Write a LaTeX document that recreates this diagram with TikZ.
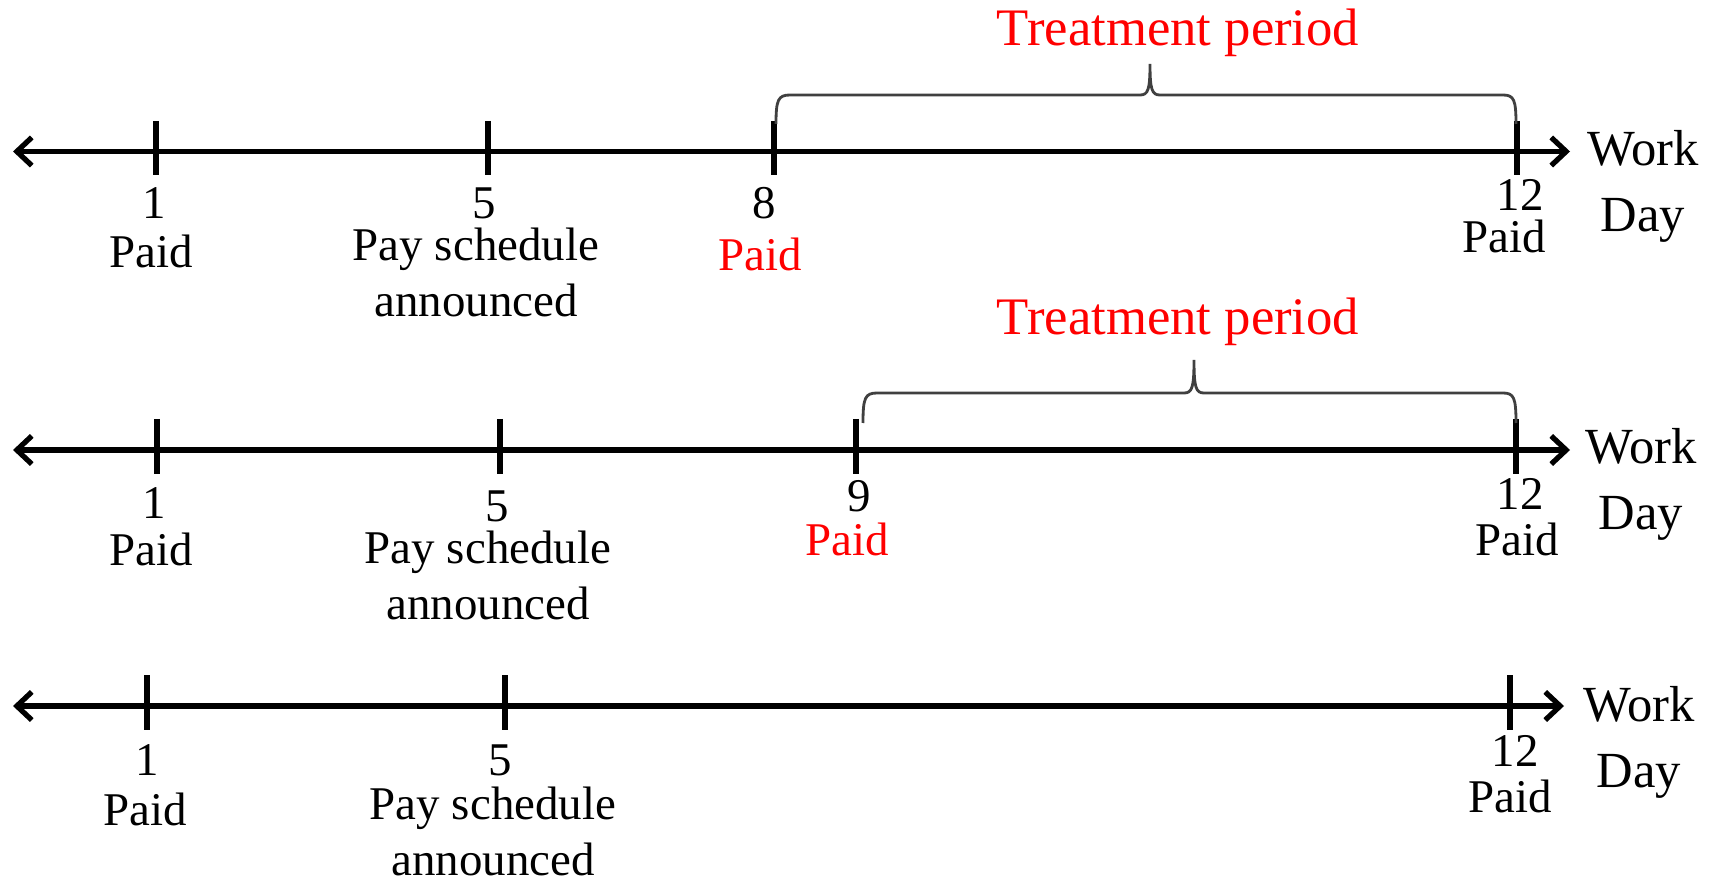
\documentclass[tikz,border=0pt]{standalone}
\usepackage{fontspec}
\setmainfont{Liberation Serif}
\usetikzlibrary{arrows.meta}

\begin{document}
\begin{tikzpicture}[x=0.02cm, y=-0.02cm,
        axisline/.style={line width=3pt, {Straight Barb[length=8.5pt,width=16pt]}-{Straight Barb[length=8.5pt,width=16pt]}},
        tickmark/.style={line width=3pt},
        bracket/.style={draw=black!75, line width=1.6pt},
        lab/.style={font=\fontsize{26.7}{31.9}\selectfont, inner sep=0pt, align=center},
        axislab/.style={font=\fontsize{28.8}{37.5}\selectfont, inner sep=0pt, align=center},
        period/.style={font=\fontsize{30}{34}\selectfont, inner sep=0pt, text=red}]
        \useasboundingbox (0, 0) rectangle (1721, 878);

        % first timeline
        \draw[axisline] (13, 151.5) -- (1570, 151.5);
        \draw[tickmark] (156, 121) -- (156, 175);
        \draw[tickmark] (488, 121) -- (488, 175);
        \draw[tickmark] (774, 121) -- (774, 175);
        \draw[tickmark] (1517, 121) -- (1517, 175);
        \draw[bracket] (776, 124) .. controls (776, 100) and (778, 95) .. (790, 95) -- (1140, 95)
            .. controls (1148, 95) and (1150, 90) .. (1150, 64)
            .. controls (1150, 90) and (1152, 95) .. (1160, 95) -- (1503, 95)
            .. controls (1514, 95) and (1516, 100) .. (1516, 124);

        \node[lab] (d1a) at (154, 203) {1};
        \node[lab] (p1a) at (151, 251) {Paid};
        \node[lab] (d5a) at (484, 203) {5};
        \node[lab] (s5a) at (476, 272) {Pay schedule\\announced};
        \node[lab] (d8a) at (764, 203) {8};
        \node[lab, text=red] (p8a) at (760, 254) {Paid};
        \node[lab] (d12a) at (1520, 195) {12};
        \node[lab] (p12a) at (1504, 236) {Paid};
        \node[axislab] (wda) at (1643, 186) {Work\\Day};
        \node[period] (tpa) at (1178, 33) {Treatment period};

        % second timeline
        \draw[axisline] (13, 450) -- (1570, 450);
        \draw[tickmark] (157, 419) -- (157, 474);
        \draw[tickmark] (500, 419) -- (500, 474);
        \draw[tickmark] (856, 419) -- (856, 474);
        \draw[tickmark] (1516, 419) -- (1516, 474);
        \draw[bracket] (863, 423) .. controls (863, 398) and (865, 393) .. (877, 393) -- (1184, 393)
            .. controls (1192, 393) and (1194, 388) .. (1194, 360)
            .. controls (1194, 388) and (1196, 393) .. (1204, 393) -- (1503, 393)
            .. controls (1514, 393) and (1516, 398) .. (1516, 423);

        \node[lab] (d1b) at (154, 503) {1};
        \node[lab] (p1b) at (151, 549) {Paid};
        \node[lab] (d5b) at (497, 506) {5};
        \node[lab] (s5b) at (488, 575) {Pay schedule\\announced};
        \node[lab] (d9b) at (859, 496) {9};
        \node[lab, text=red] (p9b) at (847, 539) {Paid};
        \node[lab] (d12b) at (1520, 494) {12};
        \node[lab] (p12b) at (1517, 539) {Paid};
        \node[axislab] (wdb) at (1641, 484) {Work\\Day};
        \node[period] (tpb) at (1178, 322) {Treatment period};

        % third timeline
        \draw[axisline] (13, 706) -- (1564, 706);
        \draw[tickmark] (147, 675) -- (147, 730);
        \draw[tickmark] (505, 675) -- (505, 730);
        \draw[tickmark] (1510, 675) -- (1510, 730);

        \node[lab] (d1c) at (147, 760) {1};
        \node[lab] (p1c) at (145, 809) {Paid};
        \node[lab] (d5c) at (500, 760) {5};
        \node[lab] (s5c) at (493, 831) {Pay schedule\\announced};
        \node[lab] (d12c) at (1515, 751) {12};
        \node[lab] (p12c) at (1510, 796) {Paid};
        \node[axislab] (wdc) at (1639, 742) {Work\\Day};
\end{tikzpicture}
\end{document}
